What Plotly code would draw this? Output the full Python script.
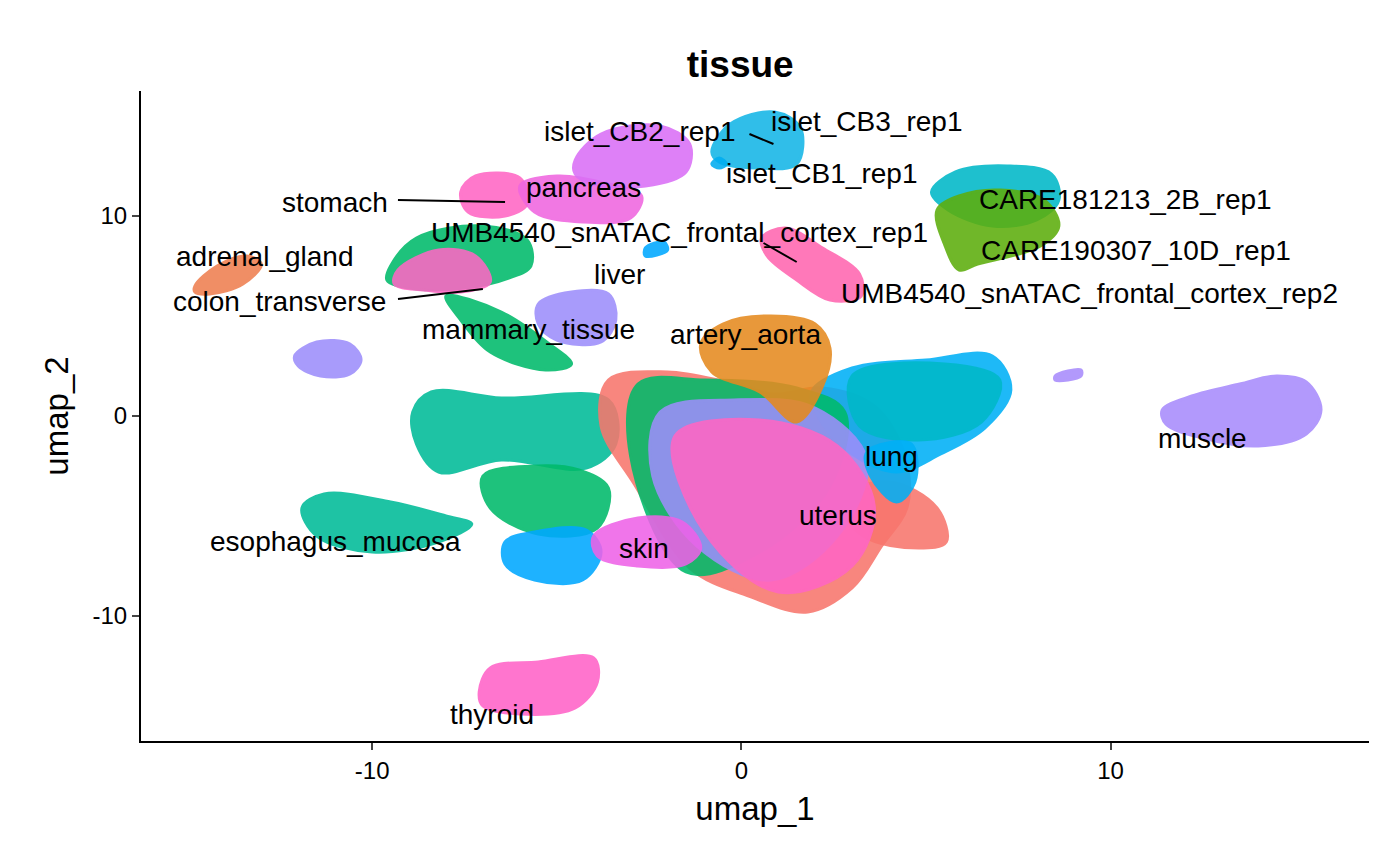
import plotly.graph_objects as go

TEMPLATE = 'simple_white'
FONT = 'Liberation Sans, Arial, sans-serif'
COLORS = {
    'adrenal':  '#EE7F50',
    'aorta':    '#E58A1F',
    'care1':    '#00B8C8',
    'care2':    '#5DAE0C',
    'colon':    '#00B97A',
    'esoph':    '#00BB98',
    'islet1':   '#00ADF0',
    'islet2':   '#DA6FF6',
    'islet3':   '#14B6E6',
    'liver':    '#00A8FF',
    'lung':     '#00B0F6',
    'mammary':  '#9D8EFB',
    'muscle':   '#A88BFC',
    'pancreas': '#F066E0',
    'skin':     '#EE62E8',
    'stomach':  '#FF66C4',
    'thyroid':  '#FF62C8',
    'umb1':     '#FF66B0',
    'green':    '#00BA6A',
    'uterus':   '#F8766D',
}

clusters = [
    ('muscle',  [11.4, 12.2, 13.5, 14.5, 15.3, 15.7, 15.3, 14.0, 12.5, 11.5], [0.3, 1.0, 1.6, 2.0, 1.7, 0.3, -0.9, -1.5, -1.1, -0.4]),
    ('muscle',  [8.5, 9.2, 9.2, 8.5], [2.0, 2.3, 2.0, 1.8]),
    ('thyroid', [-7.1, -6.8, -5.5, -4.0, -3.9, -4.5, -6.0, -7.0], [-13.8, -12.6, -12.3, -12.1, -13.3, -14.6, -14.9, -14.5]),
    ('esoph',   [-11.9, -11.3, -9.5, -8.0, -7.3, -8.2, -10.0, -11.5], [-4.6, -3.9, -4.3, -5.0, -5.4, -6.3, -6.8, -6.0]),
    ('adrenal', [-14.8, -14.2, -13.4, -13.0, -13.5, -14.4, -14.8], [6.5, 7.5, 8.0, 7.6, 6.6, 6.1, 6.2]),
    ('mammary', [-12.1, -11.5, -10.6, -10.3, -10.6, -11.4, -12.0], [3.0, 3.7, 3.6, 2.8, 2.1, 2.0, 2.5]),
    ('green',   [-9.5, -8.8, -7.0, -5.8, -5.7, -6.3, -7.5, -9.0, -9.6], [7.5, 8.9, 9.5, 8.8, 7.5, 6.9, 6.4, 6.4, 6.8]),
    ('stomach', [-9.3, -8.2, -7.2, -6.8, -7.6, -8.6, -9.4], [7.3, 8.3, 8.0, 6.7, 6.2, 6.3, 6.6]),
    ('green',   [-8.0, -6.5, -5.2, -4.6, -5.3, -6.8, -7.6], [6.0, 5.2, 3.6, 2.6, 2.3, 3.2, 4.8]),
    ('stomach', [-7.6, -7.2, -6.0, -5.8, -6.4, -7.4], [11.2, 12.0, 11.9, 10.6, 10.0, 10.2]),
    ('pancreas',[-6.0, -5.0, -3.6, -2.7, -3.0, -4.3, -5.6], [11.5, 12.0, 11.6, 11.0, 9.9, 9.7, 10.2]),
    ('islet2',  [-4.5, -3.8, -2.2, -1.4, -1.5, -2.6, -4.0, -4.5], [12.8, 14.1, 14.5, 13.6, 12.2, 11.5, 11.6, 12.1]),
    ('islet3',  [-0.8, -0.3, 0.9, 1.6, 1.5, 0.4, -0.6], [13.2, 14.6, 15.2, 14.4, 12.6, 12.4, 12.7]),
    ('islet1',  [-0.8, -0.6, -0.4, -0.6], [12.6, 12.9, 12.6, 12.4]),
    ('umb1',    [0.55, 1.2, 2.2, 3.2, 3.25, 2.4, 1.5, 0.7], [8.9, 9.4, 8.4, 7.1, 6.0, 5.8, 6.8, 8.0]),
    ('care1',   [5.15, 5.8, 7.2, 8.4, 8.6, 8.0, 6.8, 5.6], [11.2, 12.2, 12.5, 12.1, 10.8, 9.8, 9.5, 10.3]),
    ('care2',   [5.3, 5.9, 7.0, 8.2, 8.6, 8.1, 6.4, 5.9, 5.5], [10.3, 11.0, 11.3, 10.8, 9.5, 8.5, 7.6, 7.3, 8.6]),
    ('liver',   [-2.6, -2.1, -2.0, -2.6], [8.4, 8.7, 8.3, 8.0]),
    ('mammary', [-5.5, -4.6, -3.6, -3.4, -3.8, -5.0, -5.5], [5.6, 6.2, 6.1, 4.8, 3.7, 3.8, 4.6]),
    ('esoph',   [-8.9, -8.4, -6.5, -3.6, -3.4, -4.2, -6.5, -8.2, -8.8], [0.2, 1.2, 0.9, 0.8, -1.4, -2.6, -2.2, -2.8, -1.4]),
    ('green',   [-7.0, -5.5, -4.4, -3.6, -3.9, -5.5, -6.8], [-3.0, -2.5, -2.7, -3.6, -5.6, -5.9, -4.6]),
    ('liver',   [-6.4, -5.6, -4.2, -3.8, -4.3, -5.6, -6.4], [-6.3, -5.8, -5.7, -6.8, -8.2, -8.2, -7.4]),
    ('uterus',  [-3.6, -2.0, -0.4, 0.9, 2.2, 3.6, 4.4, 4.5, 3.8, 3.0, 1.8, 0.2, -1.4, -2.9, -3.8], [1.8, 2.2, 1.7, 1.1, 1.4, 0.5, -1.8, -4.5, -6.5, -8.6, -9.8, -9.0, -7.6, -3.4, -0.5]),
    ('uterus',  [2.6, 4.0, 5.3, 5.55, 4.8, 3.3], [-4.2, -3.3, -4.6, -6.3, -6.6, -6.0]),
    ('lung',    [1.9, 3.0, 5.0, 6.8, 7.3, 6.6, 5.4, 4.2, 3.0, 2.2], [1.2, 2.4, 2.8, 3.0, 1.3, -0.6, -1.9, -2.8, -1.9, -0.4]),
    ('green',   [-2.8, -1.0, 1.5, 2.8, 2.4, 0.5, -1.5, -3.0], [1.6, 1.8, 1.4, 0.2, -3.5, -6.8, -7.8, -2.0]),
    ('mammary', [-2.2, -0.2, 2.0, 3.4, 2.6, 0.8, -1.2, -2.4], [0.2, 0.8, 0.4, -2.2, -6.0, -8.2, -6.5, -3.0]),
    ('stomach', [-1.8, 0.5, 2.6, 3.6, 3.0, 1.0, -1.0], [-1.0, -0.2, -1.5, -4.5, -7.5, -8.8, -5.8]),
    ('care1',   [3.0, 5.5, 7.0, 6.5, 4.8, 3.2], [2.0, 2.6, 1.8, -0.3, -1.2, -0.5]),
    ('aorta',   [-1.1, -0.5, 0.8, 2.0, 2.4, 2.2, 1.5, 0.5, -0.8], [3.6, 4.6, 5.0, 4.6, 3.4, 1.5, -0.3, 1.2, 2.2]),
    ('lung',    [3.4, 4.6, 4.7, 4.2, 3.5], [-1.8, -1.4, -3.3, -4.3, -3.0]),
    ('skin',    [-4.0, -2.8, -1.6, -1.1, -1.5, -2.8, -3.9], [-6.0, -5.1, -5.3, -6.6, -7.4, -7.5, -7.0]),
]

fig = go.Figure()
for key, xs, ys in clusters:
    fig.add_trace(go.Scatter(x=xs + xs[:1], y=ys + ys[:1], mode='lines', fill='toself',
                             fillcolor=COLORS[key], line=dict(color=COLORS[key], width=3, shape='spline'),
                             opacity=0.88, hoverinfo='skip', showlegend=False))

# repel-style leader segments
segments = [([-9.3, -6.4], [10.8, 10.7]), ([-9.3, -7.0], [5.85, 6.35]),
            ([0.22, 0.87], [14.1, 13.6]), ([0.6, 1.5], [8.65, 7.7])]
for xs, ys in segments:
    fig.add_trace(go.Scatter(x=xs, y=ys, mode='lines', line=dict(color='black', width=2),
                             hoverinfo='skip', showlegend=False))

labels = {
    'islet_CB2_rep1': (-2.76, 14.25), 'islet_CB3_rep1': (3.39, 14.75), 'islet_CB1_rep1': (2.17, 12.15),
    'pancreas': (-4.28, 11.45), 'stomach': (-11.0, 10.7), 'CARE181213_2B_rep1': (10.4, 10.85),
    'UMB4540_snATAC_frontal_cortex_rep1': (-1.68, 9.2), 'adrenal_gland': (-12.9, 8.0),
    'CARE190307_10D_rep1': (10.68, 8.3), 'liver': (-3.3, 7.1), 'colon_transverse': (-12.5, 5.75),
    'UMB4540_snATAC_frontal_cortex_rep2': (9.43, 6.15), 'mammary_tissue': (-5.77, 4.35),
    'artery_aorta': (0.1, 4.1), 'muscle': (12.5, -1.1), 'lung': (4.07, -2.0), 'uterus': (2.63, -4.95),
    'esophagus_mucosa': (-10.98, -6.25), 'skin': (-2.63, -6.6), 'thyroid': (-6.75, -14.9),
}
for text, (x, y) in labels.items():
    fig.add_annotation(x=x, y=y, text=text, showarrow=False, font=dict(size=28, color='black'))

fig.update_layout(
    template=TEMPLATE, width=1400, height=865, font=dict(family=FONT, color='black'),
    title=dict(text='<b>tissue</b>', x=0.523, y=0.95, xanchor='center', font=dict(size=37)),
    margin=dict(l=133, r=39, t=83, b=132), plot_bgcolor='white',
)
axis = dict(showline=True, linecolor='black', linewidth=2, ticks='outside', ticklen=7, tickwidth=2,
            showgrid=False, zeroline=False, tickfont=dict(size=24, color='black'),
            tickvals=[-10, 0, 10], ticktext=['-10', '0', '10'])
fig.update_xaxes(axis, range=[-16.26, 17.0], title=dict(text='umap_1', font=dict(size=33), standoff=14))
fig.update_yaxes(axis, range=[-16.25, 16.25], title=dict(text='umap_2', font=dict(size=33), standoff=14))

fig.write_html('out.html')
